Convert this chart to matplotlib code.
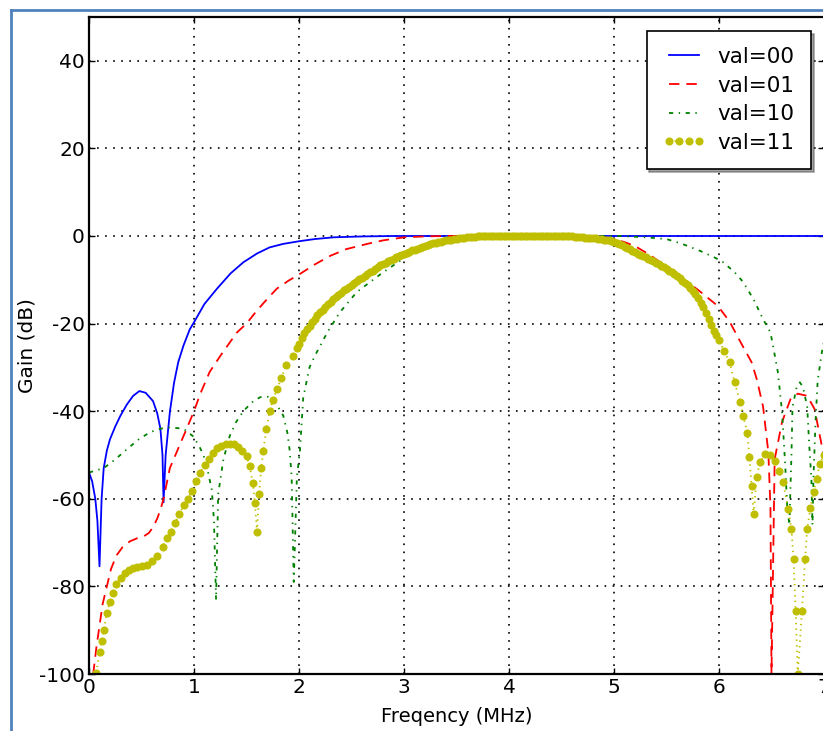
import matplotlib
matplotlib.use("Agg")
import matplotlib.pyplot as plt
from matplotlib.lines import Line2D

plt.rcParams['axes.unicode_minus'] = False
plt.rcParams['lines.scale_dashes'] = False
plt.rcParams['font.family'] = 'DejaVu Sans'

# val=00
f00 = [0.00, 0.03, 0.06, 0.08, 0.10, 0.12, 0.14, 0.17, 0.20, 0.25, 0.30, 0.36, 0.42,
       0.48, 0.54, 0.61, 0.65, 0.68, 0.70, 0.71, 0.73, 0.77, 0.81, 0.85, 0.90, 0.96,
       1.00, 1.10, 1.22, 1.35, 1.47, 1.60, 1.72, 1.85, 2.00, 2.15, 2.33, 2.60, 2.90,
       4.00, 5.00, 6.00, 7.00]
g00 = [-54, -56, -60, -65, -75.4, -60, -53, -49, -46.4, -43.5, -41, -38.5, -36.5,
       -35.4, -35.8, -37.7, -40.5, -44, -50, -60.8, -50, -40.2, -33.5, -28.8, -25, -21.3,
       -19.7, -15.5, -12, -8.5, -6, -4, -2.6, -1.8, -1.2, -0.7, -0.3, -0.1, 0,
       0, 0, 0, 0]

# val=01
f01 = [0.04, 0.07, 0.10, 0.13, 0.17, 0.21, 0.26, 0.32, 0.39, 0.46, 0.52, 0.57, 0.61,
       0.65, 0.68, 0.71, 0.77, 0.85, 0.93, 1.00, 1.06, 1.15, 1.25, 1.35, 1.41, 1.50,
       1.60, 1.70, 1.79, 1.90, 2.00, 2.15, 2.30, 2.45, 2.65, 2.80, 3.00, 3.20, 3.40,
       4.00, 4.80, 4.90, 5.00, 5.10, 5.20, 5.34, 5.50, 5.66, 5.80, 5.99, 6.10, 6.20,
       6.31, 6.36, 6.42, 6.47, 6.49, 6.50, 6.53, 6.60, 6.68, 6.75, 6.84, 6.91, 6.98, 7.00]
g01 = [-100, -94, -89, -84, -80, -76, -73, -71, -69.7, -69, -68.6, -67.8, -66.5,
       -64.5, -62.5, -60, -53, -48.5, -44, -40, -36, -31, -27.4, -24, -22, -20,
       -17, -14.3, -12, -10.2, -8.8, -6.5, -4.5, -3, -1.8, -1, -0.3, -0.1, 0,
       0, 0, -0.3, -0.7, -1.4, -2.3, -4.3, -7, -9.8, -12.3, -16, -19.5, -24,
       -28.8, -32.7, -39, -49.4, -62, -100, -51, -42.5, -37.3, -36, -36.5, -39.5, -48, -50]

# val=10
f10 = [0.00, 0.14, 0.25, 0.36, 0.47, 0.58, 0.68, 0.77, 0.90, 0.99, 1.05, 1.09, 1.13,
       1.17, 1.19, 1.21, 1.23, 1.28, 1.34, 1.40, 1.47, 1.55, 1.63, 1.70, 1.75, 1.80,
       1.85, 1.89, 1.91, 1.93, 1.95, 1.98, 2.01, 2.04, 2.10, 2.15, 2.27, 2.39, 2.55,
       2.80, 3.06, 3.28, 3.50, 3.70, 4.50, 5.06, 5.30, 5.50, 5.65, 5.82, 5.95, 6.04,
       6.15, 6.23, 6.33, 6.42, 6.49, 6.52, 6.56, 6.60, 6.63, 6.65, 6.67, 6.69, 6.70,
       6.74, 6.77, 6.80, 6.84, 6.86, 6.88, 6.89, 6.90, 6.92, 6.94, 6.98, 7.00]
g10 = [-54, -53, -51, -48.7, -46.5, -44.8, -44, -43.7, -44, -45.7, -48, -50, -53.5,
       -58, -65, -83, -59, -51, -45.7, -42.5, -40, -38, -36.8, -36.7, -37.3, -39,
       -41, -45, -48.7, -55, -79, -55, -48.7, -37, -30, -27.4, -22, -17.4, -12.8,
       -8.3, -4.1, -1.8, -0.3, 0, 0, 0, -0.3, -0.7, -1.8, -3.4, -4.8, -6,
       -8.3, -10.5, -14.5, -19, -22, -25.8, -31, -40, -52, -62, -66, -50, -39,
       -34.5, -33.4, -34.5, -39, -48, -55.5, -66, -55, -42, -33, -26.5, -24]

# val=11, low band edge
f11_lo = [0.07, 0.10, 0.12, 0.14, 0.17, 0.20, 0.23, 0.26, 0.30, 0.34, 0.38, 0.42, 0.46,
          0.50, 0.55, 0.60, 0.65, 0.70, 0.74, 0.78, 0.82, 0.86, 0.90, 0.94, 0.98, 1.02,
          1.06, 1.10, 1.14, 1.18, 1.22, 1.26, 1.30, 1.34, 1.38, 1.42, 1.46, 1.50, 1.53,
          1.56, 1.58, 1.60, 1.62, 1.64, 1.66, 1.69, 1.72, 1.75, 1.79, 1.83, 1.88, 1.94,
          1.98]
g11_lo = [-99.7, -95, -92.5, -90, -86, -83.5, -81.5, -79.5, -78, -77, -76.3, -75.9, -75.6,
          -75.4, -75.1, -74.3, -73, -71, -69, -67.5, -65.5, -63.5, -61.5, -60, -58.2, -56,
          -54, -52.3, -50.8, -49.5, -48.5, -47.9, -47.5, -47.4, -47.6, -48.1, -49, -50.3, -52.5,
          -56.5, -61, -67.5, -59, -53, -49, -44, -40, -37.5, -35, -32.5, -29.5, -27.5,
          -25.5]

# val=11, passband
f11_mid = [2.000, 2.025, 2.050, 2.075, 2.100, 2.125, 2.150, 2.175, 2.200, 2.225,
           2.250, 2.275, 2.300, 2.325, 2.350, 2.375, 2.400, 2.425, 2.450, 2.475,
           2.500, 2.525, 2.550, 2.575, 2.600, 2.625, 2.650, 2.675, 2.700, 2.725,
           2.750, 2.775, 2.800, 2.825, 2.850, 2.875, 2.900, 2.925, 2.950, 2.975,
           3.000, 3.025, 3.050, 3.075, 3.100, 3.125, 3.150, 3.175, 3.200, 3.225,
           3.250, 3.275, 3.300, 3.325, 3.350, 3.375, 3.400, 3.425, 3.450, 3.475,
           3.500, 3.525, 3.550, 3.575, 3.600, 3.625, 3.650, 3.675, 3.700, 3.725,
           3.750, 3.775, 3.800, 3.825, 3.850, 3.875, 3.900, 3.925, 3.950, 3.975,
           4.000, 4.025, 4.050, 4.075, 4.100, 4.125, 4.150, 4.175, 4.200, 4.225,
           4.250, 4.275, 4.300, 4.325, 4.350, 4.375, 4.400, 4.425, 4.450, 4.475,
           4.500, 4.525, 4.550, 4.575, 4.600, 4.625, 4.650, 4.675, 4.700, 4.725,
           4.750, 4.775, 4.800, 4.825, 4.850, 4.875, 4.900, 4.925, 4.950, 4.975,
           5.000, 5.025, 5.050, 5.075, 5.100, 5.125, 5.150, 5.175, 5.200, 5.225,
           5.250, 5.275, 5.300, 5.325, 5.350, 5.375, 5.400, 5.425, 5.450, 5.475,
           5.500, 5.525, 5.550, 5.575, 5.600, 5.625, 5.650, 5.675, 5.700, 5.725,
           5.750, 5.775, 5.800, 5.825, 5.850, 5.875, 5.900, 5.925, 5.950, 5.975,
           6.000]
g11_mid = [-24.7, -23.4, -22.2, -21.3, -20.5, -19.7, -18.9, -18.1, -17.4, -16.8,
           -16.2, -15.6, -15.0, -14.4, -13.9, -13.4, -12.9, -12.4, -12.0, -11.6,
           -11.2, -10.7, -10.3, -9.9, -9.5, -9.1, -8.7, -8.3, -7.9, -7.5,
           -7.1, -6.7, -6.4, -6.1, -5.8, -5.5, -5.2, -4.9, -4.6, -4.3,
           -4.1, -3.8, -3.6, -3.3, -3.1, -2.9, -2.7, -2.5, -2.3, -2.1,
           -1.9, -1.7, -1.6, -1.4, -1.3, -1.1, -1.0, -0.9, -0.8, -0.7,
           -0.6, -0.5, -0.4, -0.35, -0.3, -0.25, -0.2, -0.15, -0.1, -0.07,
           -0.05, -0.02, 0, 0, 0, 0, 0, 0, 0, 0,
           0, 0, 0, 0, 0, 0, 0, 0, 0, 0,
           0, 0, 0, 0, 0, 0, 0, 0, 0, 0,
           0, 0, 0, -0.05, -0.1, -0.15, -0.2, -0.25, -0.3, -0.35,
           -0.4, -0.45, -0.5, -0.57, -0.65, -0.72, -0.8, -0.9, -1.0, -1.15,
           -1.3, -1.55, -1.8, -2.1, -2.4, -2.7, -3.0, -3.35, -3.7, -4.0,
           -4.3, -4.6, -4.9, -5.2, -5.5, -5.8, -6.1, -6.45, -6.8, -7.15,
           -7.5, -7.9, -8.3, -8.75, -9.2, -9.7, -10.2, -10.7, -11.2, -11.8,
           -12.5, -13.3, -14.2, -15.2, -16.3, -17.6, -18.9, -20.3, -21.6, -22.7,
           -23.8]

# val=11, high band edge
f11_hi = [6.05, 6.10, 6.15, 6.20, 6.23, 6.27, 6.29, 6.31, 6.33, 6.36, 6.39, 6.44, 6.49,
          6.53, 6.57, 6.61, 6.66, 6.69, 6.71, 6.73, 6.75, 6.79, 6.82, 6.84, 6.87, 6.90,
          6.93, 6.96, 7.00]
g11_hi = [-26.3, -28.8, -33.4, -38, -41, -45, -50.5, -57, -63.5, -55, -51.7, -49.8, -50,
          -51.4, -53.7, -56.2, -62.4, -67, -73.8, -85.7, -100, -85.7, -73.8, -67, -62, -58.5,
          -55.5, -52, -50]

labels = ['val=00', 'val=01', 'val=10', 'val=11']

f11 = f11_lo + f11_mid + f11_hi
g11 = g11_lo + g11_mid + g11_hi

fig = plt.figure(figsize=(8.23, 7.31), dpi=100)
ax = fig.add_axes([89/823, 57/731, 735/823, 657/731])

ax.plot(f00, g00, color='b', lw=1.3, label=labels[0])
ax.plot(f01, g01, color='r', lw=1.3, dashes=(7.5, 5), label=labels[1])
ax.plot(f10, g10, color='g', lw=1.3, dashes=(3, 4, 1, 4), label=labels[2])
ax.plot(f11, g11, color='y', lw=1.3, dashes=(1, 3), marker='o', ms=4.8,
        mec='y', label=labels[3])

ax.set_xlim(0, 7)
ax.set_ylim(-100, 50)
ax.set_xticks(range(0, 8))
ax.set_yticks(range(-100, 41, 20))
ax.grid(True, color='k', lw=1.2, linestyle=(0, (1.2, 4.6)))
ax.tick_params(direction='in', length=4, labelsize=14.5, width=1, top=True, right=True,
               pad=3)
for s in ax.spines.values():
    s.set_linewidth(1.6)

ax.set_xlabel('Freqency (MHz)', fontsize=14, labelpad=7)
ax.set_ylabel('Gain (dB)', fontsize=14.5, labelpad=2)

leg = ax.legend(loc='upper right', bbox_to_anchor=(0.982, 0.979), borderaxespad=0,
                fontsize=15.5, shadow=True, fancybox=False, numpoints=4,
                handlelength=2.0, handletextpad=0.55, labelspacing=0.4,
                borderpad=0.75, framealpha=1)
leg.get_frame().set_edgecolor('k')
leg.get_frame().set_linewidth(1.2)

# picture border
fig.add_artist(Line2D([11/823, 11/823], [0, 1 - 10/731], transform=fig.transFigure,
                      color='#4F81BD', lw=2))
fig.add_artist(Line2D([11/823, 1], [1 - 10/731, 1 - 10/731], transform=fig.transFigure,
                      color='#4F81BD', lw=2))

fig.savefig('out.png', dpi=100)
